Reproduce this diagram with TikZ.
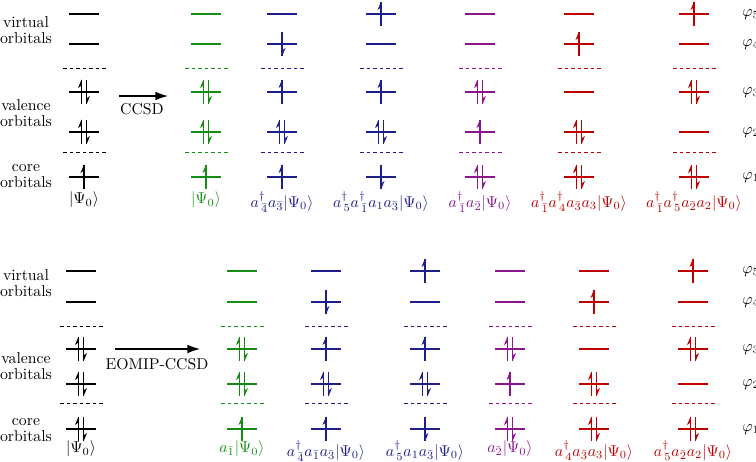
\documentclass[tikz,border=0pt]{standalone}
\usetikzlibrary{arrows.meta}
\definecolor{cgreen}{RGB}{20,140,20}
\definecolor{cblue}{RGB}{30,30,140}
\definecolor{cpurple}{RGB}{140,20,140}
\definecolor{cred}{RGB}{190,0,0}
\tikzset{
  lev/.style={line width=0.8pt},
  elec/.style={line width=1.1pt},
  dsh/.style={line width=0.6pt, dash pattern=on 2.4pt off 1.75pt},
  lab/.style={anchor=north, inner sep=1pt},
  phil/.style={anchor=base west, inner sep=0pt},
  sidel/.style={align=center, inner sep=0pt},
  bigarrow/.style={line width=0.8pt, -{Latex[length=8pt,width=5.5pt]}}
}
\newcommand\cre[1]{a^{\dagger}_{\mkern3mu#1}}
\newcommand\OccZ[2]{}
\newcommand\OccU[2]{%
  \draw[elec] ({#1},{#2+12}) -- ({#1},{#2-12});
  \fill ({#1},{#2-12.5}) -- ({#1-3.5},{#2-4}) -- ({#1},{#2-6.5}) -- cycle;}
\newcommand\OccD[2]{%
  \draw[elec] ({#1},{#2-12}) -- ({#1},{#2+12});
  \fill ({#1},{#2+12.5}) -- ({#1+3.5},{#2+4}) -- ({#1},{#2+6.5}) -- cycle;}
\newcommand\OccP[2]{\OccU{#1-2.5}{#2}\OccD{#1+2.5}{#2}}
\newcommand\Lvl[3]{%
  \draw[lev] ({#1-15},{#2}) -- ({#1+15},{#2});
  \csname Occ#3\endcsname{#1}{#2}}
\newcommand\Col[7]{%
  \begin{scope}[color=#2]
  \Lvl{#1}{\yA}{#3}
  \Lvl{#1}{\yB}{#4}
  \Lvl{#1}{\yC}{#5}
  \Lvl{#1}{\yD}{#6}
  \Lvl{#1}{\yE}{#7}
  \draw[dsh] ({#1-21},{\yDa}) -- ({#1+22},{\yDa});
  \draw[dsh] ({#1-21},{\yDb}) -- ({#1+22},{\yDb});
  \end{scope}}
\begin{document}
\begin{tikzpicture}[x=0.635pt,y=-0.635pt]
\useasboundingbox (0,0) rectangle (756,461);
% ---------- top panel ----------
\def\yA{14}\def\yB{44}\def\yDa{68}\def\yC{92}\def\yD{132}\def\yDb{152}\def\yE{177}
\Col{84}{black}{Z}{Z}{P}{P}{U}
\Col{206}{cgreen}{Z}{Z}{P}{P}{U}
\Col{282}{cblue}{Z}{D}{U}{P}{U}
\Col{381}{cblue}{U}{Z}{U}{P}{D}
\Col{480}{cpurple}{Z}{Z}{P}{U}{P}
\Col{579}{cred}{Z}{U}{Z}{P}{P}
\Col{694}{cred}{U}{Z}{P}{Z}{P}
\node[sidel] (tv) at (26,30) {virtual\\[-2pt]orbitals};
\node[sidel] (tval) at (26,113) {valence\\[-2pt]orbitals};
\node[sidel] (tcore) at (26,176) {core\\[-2pt]orbitals};
\coordinate (ta1) at (119,96);
\coordinate (ta2) at (168,96);
\draw[bigarrow] (ta1) -- (ta2);
\node (tccsd) at (142,109) {CCSD};
\node[lab] (tl0) at (84,190) {$|\Psi_0\rangle$};
\node[lab,text=cgreen] (tl1) at (206,190) {$|\Psi_0\rangle$};
\node[lab,text=cblue] (tl2) at (282,190) {$\cre{\bar{4}}a_{\bar{3}}|\Psi_0\rangle$};
\node[lab,text=cblue] (tl3) at (381,190) {$\cre{5}\cre{\bar{1}}a_{1}a_{\bar{3}}|\Psi_0\rangle$};
\node[lab,text=cpurple] (tl4) at (480,190) {$\cre{\bar{1}}a_{\bar{2}}|\Psi_0\rangle$};
\node[lab,text=cred] (tl5) at (579,190) {$\cre{\bar{1}}\cre{4}a_{\bar{3}}a_{3}|\Psi_0\rangle$};
\node[lab,text=cred] (tl6) at (694,190) {$\cre{\bar{1}}\cre{5}a_{\bar{2}}a_{2}|\Psi_0\rangle$};
\node[phil] (tp5) at (742,16) {$\varphi_5$};
\node[phil] (tp4) at (742,46) {$\varphi_4$};
\node[phil] (tp3) at (742,94) {$\varphi_3$};
\node[phil] (tp2) at (742,134) {$\varphi_2$};
\node[phil] (tp1) at (742,179) {$\varphi_1$};
% ---------- bottom panel ----------
\def\yA{271}\def\yB{302}\def\yDa{326}\def\yC{349}\def\yD{384}\def\yDb{403}\def\yE{429}
\Col{81}{black}{Z}{Z}{P}{P}{P}
\Col{242}{cgreen}{Z}{Z}{P}{P}{U}
\Col{326}{cblue}{Z}{D}{U}{P}{U}
\Col{425}{cblue}{U}{Z}{U}{P}{D}
\Col{510}{cpurple}{Z}{Z}{P}{U}{P}
\Col{594}{cred}{Z}{U}{Z}{P}{P}
\Col{693}{cred}{U}{Z}{P}{Z}{P}
\node[sidel] (bv) at (26,283) {virtual\\[-2pt]orbitals};
\node[sidel] (bval) at (26,366) {valence\\[-2pt]orbitals};
\node[sidel] (bcore) at (26,430) {core\\[-2pt]orbitals};
\coordinate (ba1) at (115,349);
\coordinate (ba2) at (200,349);
\draw[bigarrow] (ba1) -- (ba2);
\node (beom) at (157,364) {EOMIP-CCSD};
\node[lab] (bl0) at (81,439) {$|\Psi_0\rangle$};
\node[lab,text=cgreen] (bl1) at (242,439) {$a_{\bar{1}}|\Psi_0\rangle$};
\node[lab,text=cblue] (bl2) at (326,439) {$\cre{\bar{4}}a_{\bar{1}}a_{\bar{3}}|\Psi_0\rangle$};
\node[lab,text=cblue] (bl3) at (425,439) {$\cre{5}a_{1}a_{\bar{3}}|\Psi_0\rangle$};
\node[lab,text=cpurple] (bl4) at (510,439) {$a_{\bar{2}}|\Psi_0\rangle$};
\node[lab,text=cred] (bl5) at (594,439) {$\cre{4}a_{\bar{3}}a_{3}|\Psi_0\rangle$};
\node[lab,text=cred] (bl6) at (693,439) {$\cre{5}a_{\bar{2}}a_{2}|\Psi_0\rangle$};
\node[phil] (bp5) at (742,273) {$\varphi_5$};
\node[phil] (bp4) at (742,304) {$\varphi_4$};
\node[phil] (bp3) at (742,351) {$\varphi_3$};
\node[phil] (bp2) at (742,386) {$\varphi_2$};
\node[phil] (bp1) at (742,431) {$\varphi_1$};
\end{tikzpicture}
\end{document}
